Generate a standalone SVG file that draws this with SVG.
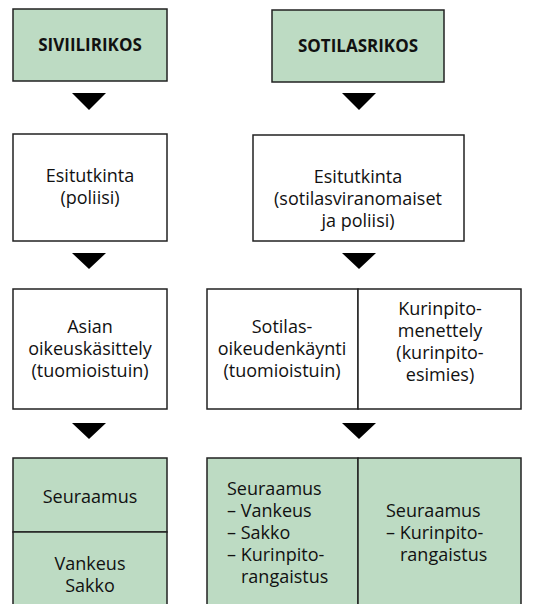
<svg xmlns="http://www.w3.org/2000/svg" width="537" height="604" viewBox="0 0 537 604">
<style>
.g{fill:#bddbc3;stroke:#222;stroke-width:1.5}
.w{fill:#fff;stroke:#222;stroke-width:1.5}
text{font-family:"Open Sans","Noto Sans",sans-serif;font-size:18px;fill:#111;text-anchor:middle}
.b{font-weight:bold;font-size:17px}
.l{text-anchor:start}
</style>
<rect width="537" height="604" fill="#fff"/>
<g id="siviilirikos"><rect class="g" x="13" y="9" width="154" height="72"/><text class="b" x="90" y="51">SIVIILIRIKOS</text></g>
<g id="sotilasrikos"><rect class="g" x="272" y="10" width="172" height="72"/><text class="b" x="358" y="52">SOTILASRIKOS</text></g>
<g id="esitutkinta1"><rect class="w" x="13" y="134" width="154" height="107"/><text x="90" y="182">Esitutkinta</text><text x="90" y="204">(poliisi)</text></g>
<g id="esitutkinta2"><rect class="w" x="253" y="135" width="211" height="106"/><text x="358" y="183">Esitutkinta</text><text x="358" y="205">(sotilasviranomaiset</text><text x="358" y="227">ja poliisi)</text></g>
<g id="oikeus"><rect class="w" x="13" y="289" width="154" height="120"/><text x="90" y="333">Asian</text><text x="90" y="355">oikeuskäsittely</text><text x="90" y="377">(tuomioistuin)</text></g>
<g id="sotilasoikeus"><rect class="w" x="207" y="289" width="151" height="120"/><text x="282" y="333">Sotilas-</text><text x="282" y="355">oikeudenkäynti</text><text x="282" y="377">(tuomioistuin)</text></g>
<g id="kurinpito"><rect class="w" x="358" y="289" width="163" height="120"/><text x="440" y="315">Kurinpito-</text><text x="440" y="337">menettely</text><text x="440" y="359">(kurinpito-</text><text x="440" y="381">esimies)</text></g>
<g id="seuraamus1"><rect class="g" x="13" y="458" width="154" height="74"/><text x="90" y="503">Seuraamus</text></g>
<g id="vankeus"><rect class="g" x="13" y="532" width="154" height="80"/><text x="90" y="570">Vankeus</text><text x="90" y="592">Sakko</text></g>
<g id="seuraamus2"><rect class="g" x="207" y="458" width="151" height="154"/><text class="l" x="227" y="495">Seuraamus</text><text class="l" x="227" y="517">– Vankeus</text><text class="l" x="227" y="539">– Sakko</text><text class="l" x="227" y="561">– Kurinpito-</text><text class="l" x="241" y="583">rangaistus</text></g>
<g id="seuraamus3"><rect class="g" x="358" y="458" width="163" height="154"/><text class="l" x="386" y="517">Seuraamus</text><text class="l" x="386" y="539">– Kurinpito-</text><text class="l" x="400" y="561">rangaistus</text></g>
<g id="connectors" fill="#000">
<polygon points="72,93 106,93 89,110"/>
<polygon points="342,93 376,93 359,110"/>
<polygon points="72,253 106,253 89,269"/>
<polygon points="342,253 376,253 359,269"/>
<polygon points="72,423 106,423 89,439"/>
<polygon points="342,423 376,423 359,439"/>
</g>
</svg>
